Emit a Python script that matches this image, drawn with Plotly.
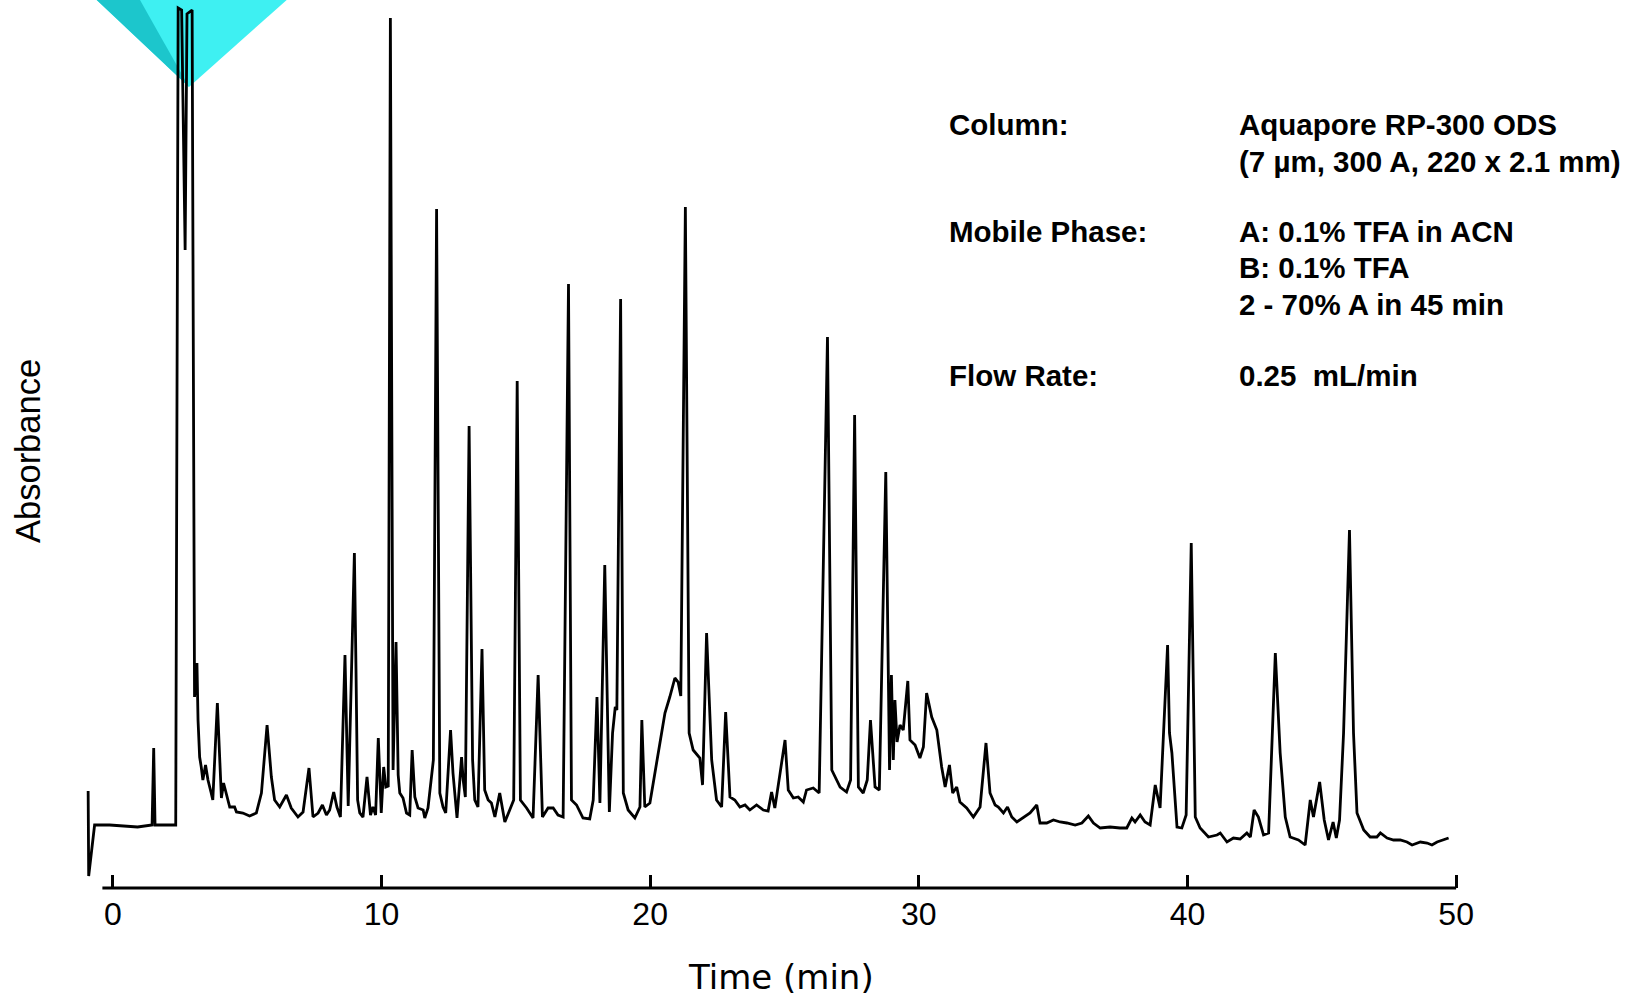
import plotly.graph_objects as go

# Chromatogram trace: time (min) and absorbance (arbitrary units)
time_min = [
    -0.92, -0.90, -0.68, -0.12, 0.92, 1.37, 1.46, 1.52, 1.57, 2.34,
    2.43, 2.56, 2.69, 2.76, 2.95, 3.04, 3.13, 3.17, 3.23, 3.29,
    3.35, 3.45, 3.54, 3.66, 3.72, 3.89, 4.04, 4.12, 4.22, 4.35,
    4.53, 4.60, 4.84, 5.09, 5.34, 5.53, 5.74, 5.90, 6.02, 6.21,
    6.46, 6.64, 6.89, 7.08, 7.30, 7.45, 7.64, 7.80, 7.95, 8.07,
    8.22, 8.34, 8.47, 8.64, 8.76, 8.99, 9.05, 9.11, 9.19, 9.31,
    9.46, 9.59, 9.68, 9.78, 9.88, 9.99, 10.08, 10.16, 10.25, 10.33,
    10.43, 10.54, 10.62, 10.68, 10.80, 10.93, 11.05, 11.14, 11.24, 11.36,
    11.55, 11.61, 11.73, 11.86, 11.93, 12.05, 12.17, 12.29, 12.39, 12.57,
    12.66, 12.81, 12.98, 13.04, 13.12, 13.26, 13.39, 13.47, 13.59, 13.74,
    13.84, 13.97, 14.09, 14.22, 14.40, 14.59, 14.77, 14.92, 15.05, 15.17,
    15.40, 15.64, 15.83, 15.99, 16.20, 16.39, 16.57, 16.76, 16.96, 17.07,
    17.26, 17.50, 17.75, 17.88, 18.02, 18.13, 18.31, 18.48, 18.60, 18.70,
    18.76, 18.90, 19.00, 19.18, 19.43, 19.62, 19.69, 19.80, 19.99, 20.18,
    20.36, 20.55, 20.73, 20.92, 21.04, 21.14, 21.31, 21.45, 21.60, 21.85,
    21.95, 22.10, 22.29, 22.47, 22.66, 22.81, 22.97, 23.15, 23.34, 23.53,
    23.71, 23.96, 24.21, 24.39, 24.52, 24.64, 25.02, 25.14, 25.33, 25.51,
    25.70, 25.82, 26.07, 26.29, 26.60, 26.76, 27.07, 27.31, 27.46, 27.61,
    27.75, 27.93, 28.08, 28.20, 28.37, 28.53, 28.77, 28.91, 28.98, 29.05,
    29.11, 29.19, 29.30, 29.42, 29.59, 29.67, 29.86, 30.04, 30.17, 30.29,
    30.48, 30.67, 30.85, 30.98, 31.14, 31.26, 31.41, 31.53, 31.78, 32.03,
    32.28, 32.50, 32.65, 32.84, 32.96, 33.15, 33.30, 33.46, 33.65, 33.89,
    34.14, 34.39, 34.51, 34.76, 35.01, 35.26, 35.51, 35.82, 36.07, 36.31,
    36.50, 36.75, 37.12, 37.49, 37.74, 37.93, 38.05, 38.24, 38.42, 38.61,
    38.80, 38.98, 39.26, 39.33, 39.42, 39.61, 39.79, 39.95, 40.14, 40.29,
    40.47, 40.78, 41.10, 41.22, 41.47, 41.71, 41.96, 42.21, 42.34, 42.48,
    42.64, 42.83, 43.02, 43.27, 43.45, 43.64, 43.82, 44.13, 44.38, 44.57,
    44.69, 44.92, 45.09, 45.25, 45.42, 45.54, 45.66, 45.81, 46.03, 46.18,
    46.31, 46.56, 46.80, 47.05, 47.18, 47.43, 47.67, 47.92, 48.17, 48.36,
    48.67, 48.92, 49.10, 49.29, 49.53, 49.72,
]
absorbance = [
    97, 12, 63, 63, 61, 63, 63, 140, 63, 63,
    880, 878, 638, 874, 878, 191, 225, 168, 131, 121,
    108, 123, 108, 95, 88, 185, 90, 105, 95, 81,
    81, 76, 75, 72, 75, 95, 163, 111, 88, 81,
    93, 80, 71, 76, 120, 71, 75, 83, 73, 78,
    96, 81, 71, 233, 82, 335, 218, 88, 75, 71,
    111, 73, 81, 73, 150, 75, 121, 101, 102, 870,
    118, 246, 113, 95, 90, 75, 73, 138, 91, 80,
    78, 70, 80, 111, 128, 679, 95, 81, 75, 158,
    115, 70, 131, 108, 91, 462, 128, 88, 81, 239,
    98, 88, 85, 71, 95, 66, 78, 88, 507, 88,
    80, 70, 213, 71, 80, 80, 73, 71, 604, 88,
    83, 70, 69, 88, 191, 85, 323, 76, 155, 181,
    178, 589, 95, 78, 70, 81, 168, 81, 85, 115,
    141, 175, 191, 210, 206, 192, 681, 155, 138, 130,
    103, 255, 128, 88, 81, 176, 91, 88, 81, 83,
    78, 83, 78, 77, 96, 80, 148, 98, 90, 91,
    86, 98, 100, 95, 551, 118, 101, 96, 108, 473,
    101, 95, 108, 168, 101, 98, 416, 118, 213, 128,
    188, 146, 163, 158, 207, 148, 143, 130, 141, 195,
    171, 158, 121, 101, 123, 95, 101, 86, 80, 71,
    81, 145, 95, 83, 81, 75, 81, 71, 66, 70,
    75, 83, 65, 65, 68, 66, 65, 63, 65, 72,
    65, 60, 61, 60, 60, 70, 66, 73, 66, 63,
    103, 80, 243, 155, 135, 61, 60, 73, 345, 71,
    60, 51, 53, 55, 46, 50, 49, 55, 51, 78,
    71, 53, 55, 235, 135, 71, 51, 48, 43, 88,
    71, 106, 68, 48, 66, 50, 68, 155, 358, 155,
    75, 58, 51, 51, 55, 50, 48, 48, 46, 43,
    46, 45, 43, 46, 48, 50,
]

x_ticks = [0, 10, 20, 30, 40, 50]
x_tick_labels = ["0", "10", "20", "30", "40", "50"]

info_labels = ["Column:", "", "Mobile Phase:", "", "", "Flow Rate:"]
info_values = [
    "Aquapore RP-300 ODS",
    "(7 µm, 300 A, 220 x 2.1 mm)",
    "A: 0.1% TFA in ACN",
    "B: 0.1% TFA",
    "2 - 70% A in 45 min",
    "0.25  mL/min",
]

FONT = "Liberation Sans, Arial, Helvetica, sans-serif"
W, H = 1636, 996
ML, MR, MT, MB = 86, 153, 0, 108
PW, PH = W - ML - MR, H - MT - MB


def px(xp):
    return (xp - ML) / PW


def py(yp):
    return (H - MB - yp) / PH


fig = go.Figure()
fig.add_trace(go.Scatter(
    x=time_min, y=absorbance, mode="lines",
    line=dict(color="black", width=2.8), hoverinfo="skip", showlegend=False,
))

shapes = []
# cyan triangle decoration at the top-left
tri = [(96.7, 0), (286.7, 0), (189.0, 87.0)]
shapes.append(dict(
    type="path", xref="paper", yref="paper", layer="below",
    path="M {} {} L {} {} L {} {} Z".format(px(tri[0][0]), py(tri[0][1]), px(tri[1][0]), py(tri[1][1]), px(tri[2][0]), py(tri[2][1])),
    fillcolor="#3ef0f2", line=dict(width=0),
))
band = [(96.7, 0), (140.0, 0), (189.0, 87.0)]
shapes.append(dict(
    type="path", xref="paper", yref="paper", layer="below",
    path="M {} {} L {} {} L {} {} Z".format(px(band[0][0]), py(band[0][1]), px(band[1][0]), py(band[1][1]), px(band[2][0]), py(band[2][1])),
    fillcolor="#1cc6cc", line=dict(width=0),
))
# x axis baseline
shapes.append(dict(type="line", xref="x", yref="paper", x0=-0.39, x1=50, y0=0, y1=0,
                   line=dict(color="black", width=3)))

annotations = []
annotations.append(dict(text="Time (min)", xref="paper", yref="paper", x=px(781), y=py(977),
                        xanchor="center", yanchor="middle", showarrow=False,
                        font=dict(family="DejaVu Sans, sans-serif", size=34, color="black")))
annotations.append(dict(text="Absorbance", xref="paper", yref="paper", x=px(28), y=py(451),
                        xanchor="center", yanchor="middle", showarrow=False, textangle=-90,
                        font=dict(family=FONT, size=34.5, color="black")))

line_y = [124.7, 161.2, 231.1, 267.7, 304.2, 375.1]
for lab, val, yy in zip(info_labels, info_values, line_y):
    if lab:
        annotations.append(dict(text="<b>%s</b>" % lab, xref="paper", yref="paper", x=px(946.7), y=py(yy),
                                xanchor="left", yanchor="middle", showarrow=False,
                                font=dict(family=FONT, size=29.5, color="black")))
    annotations.append(dict(text="<b>%s</b>" % val, xref="paper", yref="paper", x=px(1236.7), y=py(yy),
                            xanchor="left", yanchor="middle", showarrow=False,
                            font=dict(family=FONT, size=29.5, color="black")))

fig.update_layout(
    width=W, height=H,
    margin=dict(l=ML, r=MR, t=MT, b=MB, autoexpand=False),
    paper_bgcolor="white", plot_bgcolor="white",
    shapes=shapes, annotations=annotations,
    xaxis=dict(range=[-1, 51], tickvals=x_ticks, ticktext=x_tick_labels,
               ticks="inside", ticklen=13, tickwidth=2.5, tickcolor="black",
               showline=False, showgrid=False, zeroline=False,
               tickfont=dict(family=FONT, size=32, color="black"),
               ticklabelstandoff=4),
    yaxis=dict(range=[0, 888], visible=False, showgrid=False, zeroline=False),
)

fig.write_html("out.html", config={"displayModeBar": False})
